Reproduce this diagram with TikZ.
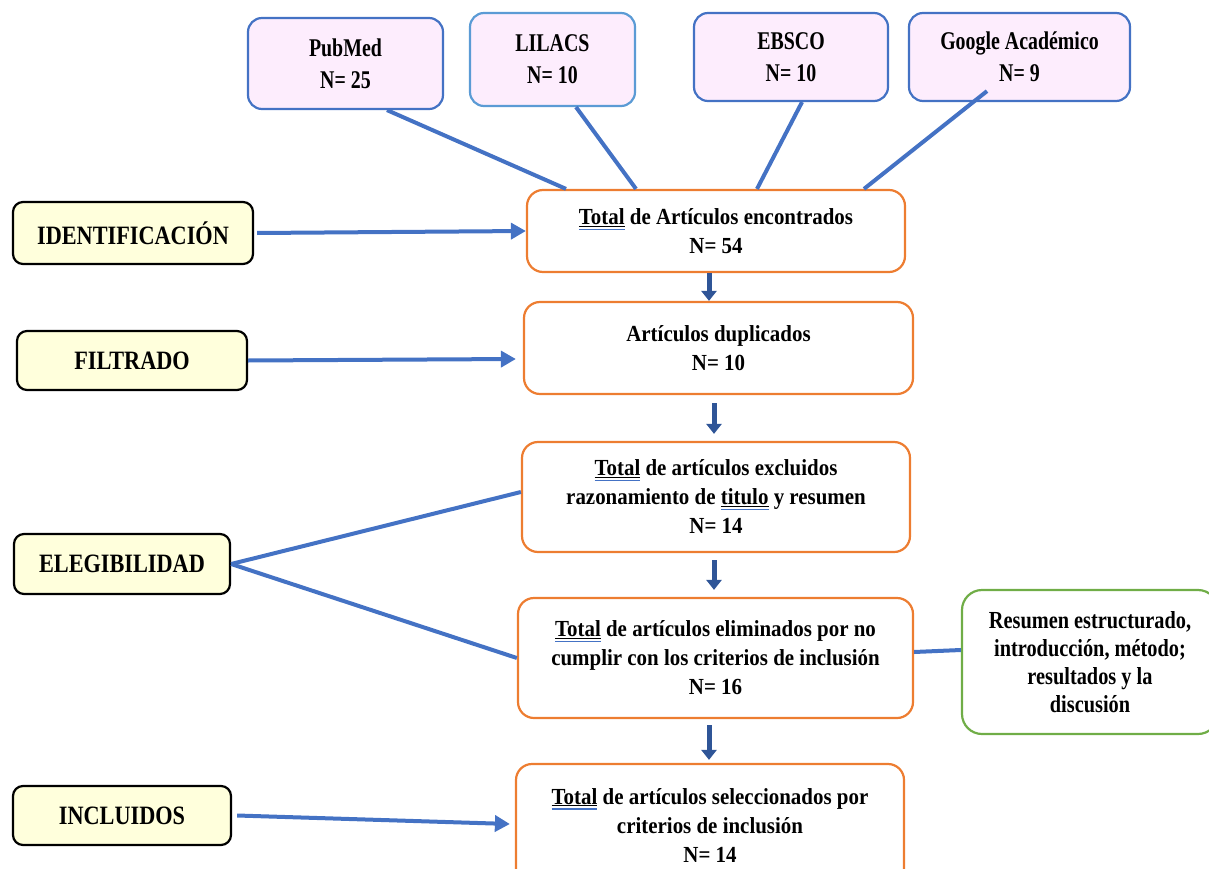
\documentclass[tikz,border=0pt]{standalone}
\usepackage{fontspec}
\setmainfont{Liberation Serif}
\newfontfamily\fuentefont{Liberation Serif}[FakeStretch=0.78]
\newfontfamily\etapafont{Liberation Serif}[FakeStretch=0.84]
\newfontfamily\cajafont{Liberation Serif}[FakeStretch=0.91]
\newfontfamily\notafont{Liberation Serif}[FakeStretch=0.83]
\usetikzlibrary{arrows.meta}

\definecolor{srcblue}{HTML}{4472C4}
\definecolor{srcblue2}{HTML}{5B9BD5}
\definecolor{srcpink}{HTML}{FDEDFD}
\definecolor{boxorange}{HTML}{ED7D31}
\definecolor{stageyellow}{HTML}{FFFFDC}
\definecolor{notegreen}{HTML}{70AD47}
\definecolor{linkblue}{HTML}{4472C4}
\definecolor{downblue}{HTML}{2F5597}

% word underlined in the original text
\newlength\marcaw
\newcommand{\marca}[1]{\settowidth{\marcaw}{#1}\rlap{\color{srcblue}\rule[-5.5pt]{\marcaw}{1.2pt}}\underline{#1}}

\begin{document}
\begin{tikzpicture}[x=1pt,y=-1pt]
        \tikzset{fuente/.style={draw=srcblue, fill=srcpink, line width=2.2pt, rounded corners=14pt, align=center, font=\fuentefont\bfseries\fontsize{25.5}{32}\selectfont},
        caja/.style={draw=boxorange, line width=2.2pt, rounded corners=16pt, align=center, font=\cajafont\bfseries\fontsize{23}{29}\selectfont},
        etapa/.style={draw=black, fill=stageyellow, line width=2.2pt, rounded corners=10pt, align=center, font=\etapafont\bfseries\fontsize{26.5}{30}\selectfont},
        nota/.style={draw=notegreen, line width=2.2pt, rounded corners=20pt, align=center, font=\notafont\bfseries\fontsize{24.5}{28}\selectfont},
        enlace/.style={draw=linkblue, line width=4pt},
        flecha/.style={draw=linkblue, line width=4pt, -{Triangle[length=15pt,width=16pt]}},
        baja/.style={draw=downblue, line width=5pt, -{Triangle[length=10pt,width=15pt]}},
        }
        \useasboundingbox (0,0) rectangle (1209,869);

        %% sources
        \node [fuente, minimum width=195pt, minimum height=91pt] (pub) at (345.5,63.5) {PubMed\\N= 25};
        \node [fuente, draw=srcblue2, minimum width=165pt, minimum height=93pt] (lil) at (552.5,59.5) {LILACS\\N= 10};
        \node [fuente, minimum width=194pt, minimum height=88pt] (ebs) at (791,57) {EBSCO\\N= 10};
        \node [fuente, minimum width=221pt, minimum height=88pt] (goo) at (1019.5,57) {Google Académico\\N= 9};

        %% main column
        \node [caja, minimum width=378pt, minimum height=82pt] (tot) at (716,231) {\marca{Total} de Artículos encontrados\\N= 54};
        \node [caja, minimum width=389pt, minimum height=92pt] (dup) at (718.5,348) {Artículos duplicados\\N= 10};
        \node [caja, minimum width=388pt, minimum height=110pt] (exc) at (716,497) {\marca{Total} de artículos excluidos\\razonamiento de \marca{titulo} y resumen\\N= 14};
        \node [caja, minimum width=395pt, minimum height=120pt] (eli) at (715.5,658) {\marca{Total} de artículos eliminados por no\\cumplir con los criterios de inclusión\\N= 16};
        \node [caja, minimum width=388pt, minimum height=122pt] (sel) at (710,825) {\marca{Total} de artículos seleccionados por\\criterios de inclusión\\N= 14};
        \node [nota, minimum width=256pt, minimum height=144pt] (crit) at (1090,662) {Resumen estructurado,\\introducción, método;\\resultados y la\\discusión};

        %% stages
        \node [etapa, minimum width=240pt, minimum height=62pt] (ide) at (133,233) {IDENTIFICACIÓN};
        \node [etapa, minimum width=230pt, minimum height=59pt] (fil) at (132,360.5) {FILTRADO};
        \node [etapa, minimum width=216pt, minimum height=60pt] (ele) at (122,564) {ELEGIBILIDAD};
        \node [etapa, minimum width=218pt, minimum height=59pt] (inc) at (122,815.5) {INCLUIDOS};

%% paths
        \path[enlace] ([xshift=41.5pt]pub.south) edge ([xshift=-150pt]tot.north)
                    ([xshift=23.5pt]lil.south) edge ([xshift=-80pt]tot.north)
                    ([xshift=11pt]ebs.south) edge ([xshift=41pt]tot.north)
                    ([xshift=-32.5pt,yshift=11pt]goo.south) edge ([xshift=148pt]tot.north)
                    (ele.east) edge ([yshift=5pt]exc.west)
                    (ele.east) edge (eli.west)
                    ([yshift=6pt]eli.east) edge ([yshift=12pt]crit.west)
                    ;
        \draw[flecha] ([xshift=3pt]ide.east) -- (tot.west);
        \draw[flecha] (fil.east) -- ([xshift=-7pt,yshift=-11pt]dup.west);
        \draw[flecha] ([xshift=5pt]inc.east) -- ([xshift=-5pt,yshift=1pt]sel.west);
        \draw[baja] ([xshift=-7pt]tot.south) -- ([xshift=-9.5pt]dup.north);
        \draw[baja] ([xshift=-4.5pt,yshift=-8pt]dup.south) -- ([xshift=-2pt,yshift=7pt]exc.north);
        \draw[baja] ([xshift=-2pt,yshift=-7pt]exc.south) -- ([xshift=-1.5pt,yshift=7pt]eli.north);
        \draw[baja] ([xshift=-6.5pt,yshift=-6pt]eli.south) -- ([xshift=-1pt,yshift=3pt]sel.north);
    \end{tikzpicture}
\end{document}
